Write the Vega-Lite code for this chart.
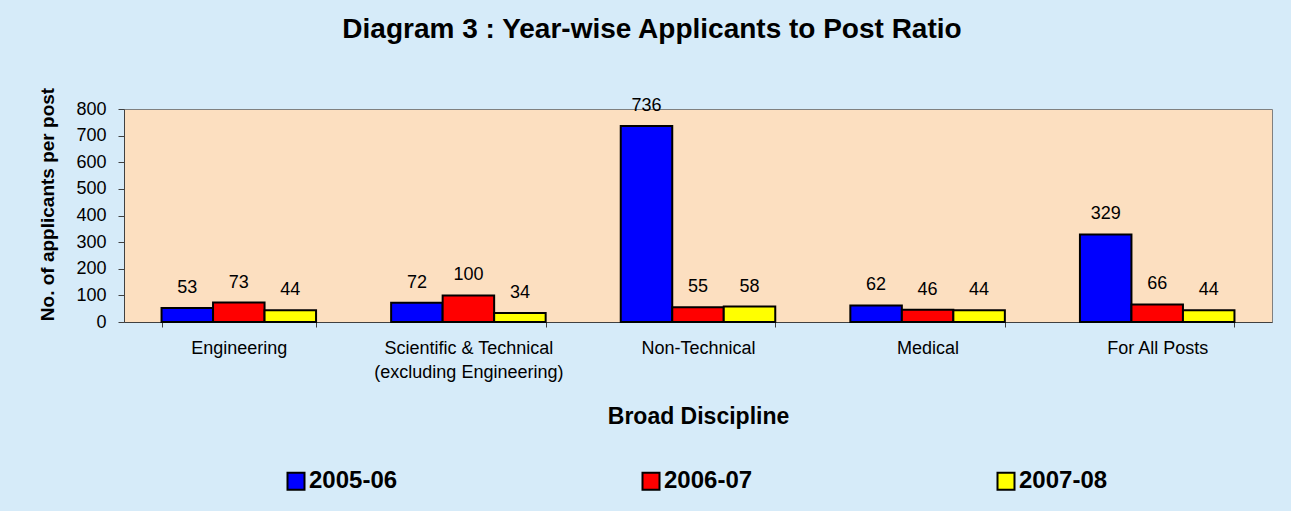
{
  "$schema": "https://vega.github.io/schema/vega-lite/v6.json",
  "width": 1148,
  "height": 213,
  "autosize": {"type": "none"},
  "padding": {"left": 124, "top": 109, "right": 19, "bottom": 189},
  "background": "#D6EBF9",
  "title": {
    "text": "Diagram 3 : Year-wise Applicants to Post Ratio",
    "fontSize": 28,
    "fontWeight": "bold",
    "font": "Liberation Sans",
    "color": "#000000",
    "baseline": "alphabetic",
    "offset": 21,
    "dx": -46
  },
  "data": {
    "values": [
      {"category": "Engineering", "year": "2005-06", "value": 53},
      {"category": "Engineering", "year": "2006-07", "value": 73},
      {"category": "Engineering", "year": "2007-08", "value": 44},
      {"category": "Scientific & Technical (excluding Engineering)", "year": "2005-06", "value": 72},
      {"category": "Scientific & Technical (excluding Engineering)", "year": "2006-07", "value": 100},
      {"category": "Scientific & Technical (excluding Engineering)", "year": "2007-08", "value": 34},
      {"category": "Non-Technical", "year": "2005-06", "value": 736},
      {"category": "Non-Technical", "year": "2006-07", "value": 55},
      {"category": "Non-Technical", "year": "2007-08", "value": 58},
      {"category": "Medical", "year": "2005-06", "value": 62},
      {"category": "Medical", "year": "2006-07", "value": 46},
      {"category": "Medical", "year": "2007-08", "value": 44},
      {"category": "For All Posts", "year": "2005-06", "value": 329},
      {"category": "For All Posts", "year": "2006-07", "value": 66},
      {"category": "For All Posts", "year": "2007-08", "value": 44}
    ]
  },
  "encoding": {
    "x": {
      "field": "category",
      "type": "nominal",
      "sort": ["Engineering", "Scientific & Technical (excluding Engineering)", "Non-Technical", "Medical", "For All Posts"],
      "scale": {"paddingInner": 0.327, "paddingOuter": 0.1635},
      "axis": {
        "title": "Broad Discipline",
        "titleFontSize": 23,
        "titleFontWeight": "bold",
        "titleColor": "#000000",
        "titleY": 101,
        "titleBaseline": "alphabetic",
        "labelAngle": 0,
        "labelFontSize": 18,
        "labelColor": "#000000",
        "labelPadding": 12,
        "labelLineHeight": 24,
        "labelLimit": 400,
        "labelExpr": "datum.label == 'Scientific & Technical (excluding Engineering)' ? ['Scientific & Technical', '(excluding Engineering)'] : datum.label",
        "tickBand": "extent",
        "tickSize": 5,
        "tickColor": "#404040",
        "domainColor": "#404040",
        "grid": false
      }
    },
    "xOffset": {
      "field": "year",
      "type": "nominal",
      "sort": ["2005-06", "2006-07", "2007-08"],
      "scale": {"paddingInner": 0, "paddingOuter": 0}
    },
    "y": {
      "field": "value",
      "type": "quantitative",
      "scale": {"domain": [0, 800], "nice": false},
      "axis": {
        "title": "No. of applicants per post",
        "titleFontSize": 19,
        "titleFontWeight": "bold",
        "titleColor": "#000000",
        "titleY": 95,
        "titlePadding": 18,
        "values": [0, 100, 200, 300, 400, 500, 600, 700, 800],
        "labelFontSize": 18,
        "labelColor": "#000000",
        "labelPadding": 12,
        "tickSize": 6,
        "tickColor": "#404040",
        "domainColor": "#404040",
        "grid": false
      }
    }
  },
  "layer": [
    {
      "mark": {"type": "bar", "stroke": "#000000", "strokeWidth": 2},
      "encoding": {
        "color": {
          "field": "year",
          "type": "nominal",
          "scale": {"domain": ["2005-06", "2006-07", "2007-08"], "range": ["#0000FF", "#FF0000", "#FFFF00"]},
          "legend": {
            "title": null,
            "orient": "none",
            "direction": "horizontal",
            "legendX": 160,
            "legendY": 360,
            "padding": 0,
            "columnPadding": 240,
            "symbolType": "square",
            "symbolSize": 289,
            "symbolStrokeColor": "#000000",
            "symbolStrokeWidth": 2,
            "symbolOpacity": 1,
            "labelFontSize": 24,
            "labelFontWeight": "bold",
            "labelColor": "#000000",
            "labelOffset": 1
          }
        }
      }
    },
    {
      "mark": {"type": "text", "baseline": "alphabetic", "dy": -15, "fontSize": 18, "color": "#000000"},
      "encoding": {
        "text": {"field": "value", "type": "quantitative"}
      }
    }
  ],
  "config": {
    "font": "Liberation Sans",
    "view": {"fill": "#FCDFC0", "stroke": "#808080", "strokeWidth": 1}
  }
}
